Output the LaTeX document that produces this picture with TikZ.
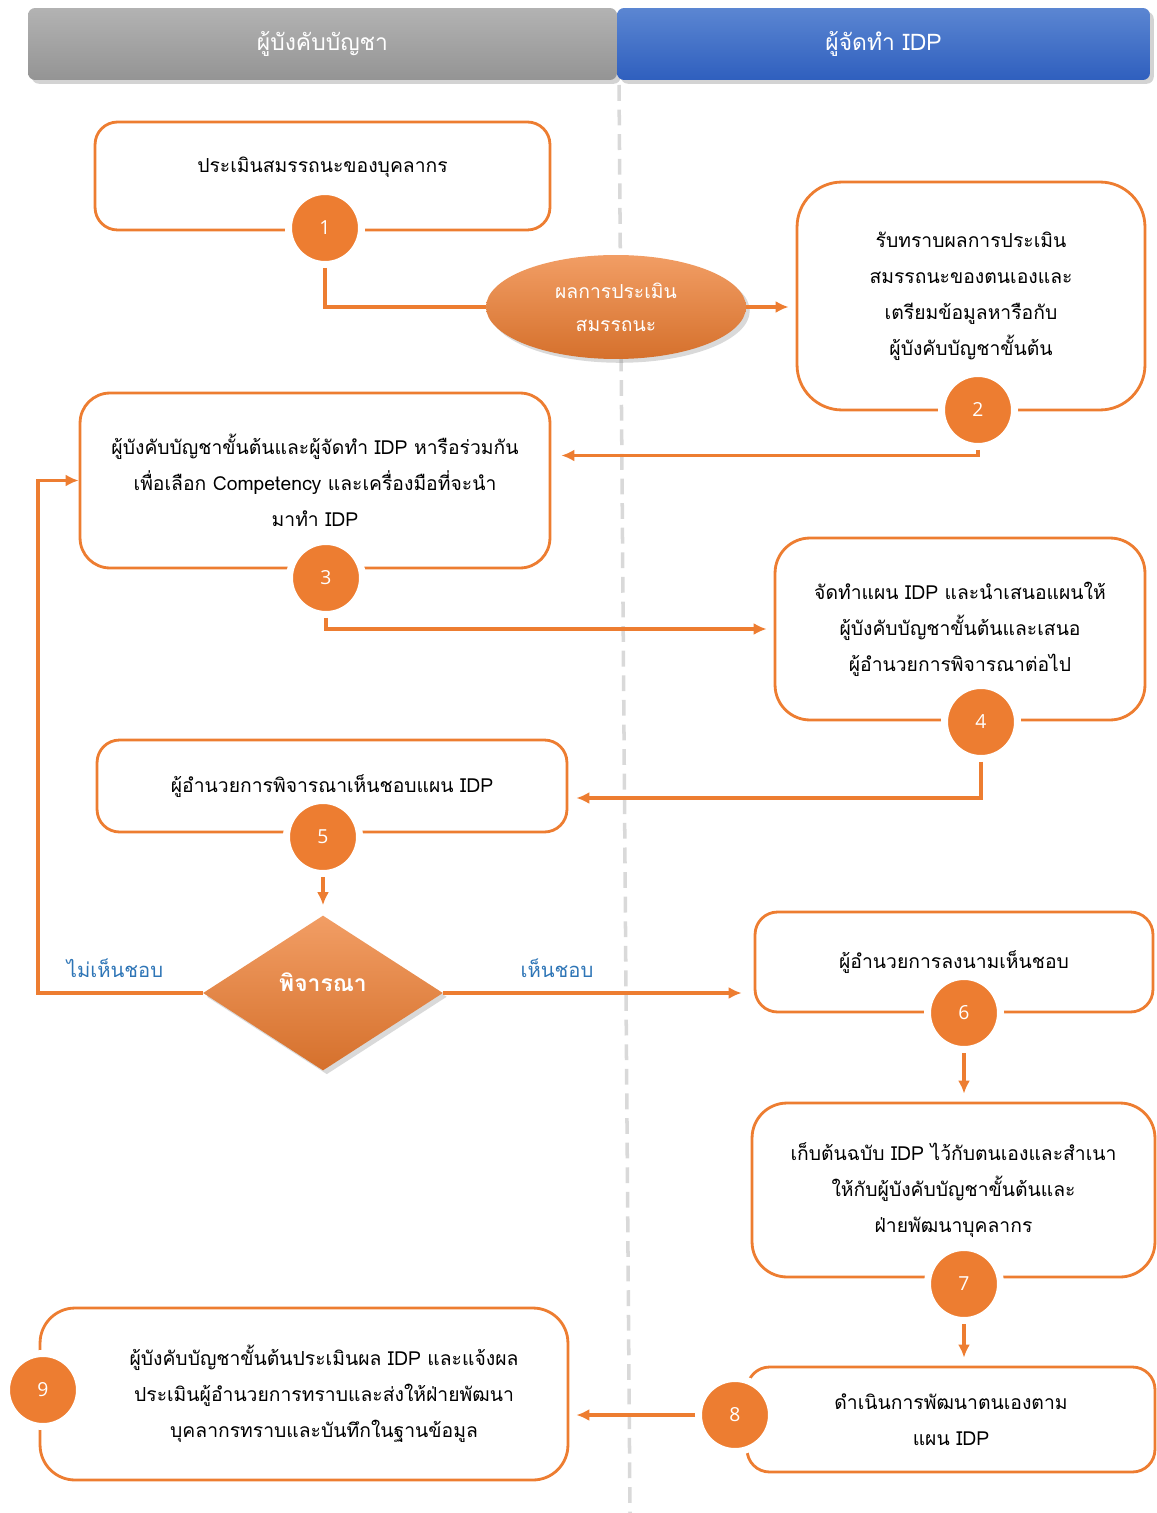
\documentclass[tikz,border=0pt]{standalone}
\usepackage{fontspec}
\newfontfamily\thaifont[Script=Thai]{Loma}
\newfontfamily\numfont{Open Sans}
\usetikzlibrary{arrows,arrows.meta,shapes,calc,shadows}
\definecolor{ocolor}{HTML}{ED7D31}
\definecolor{lblue}{HTML}{2E75B6}
\tikzset{
  stepbox/.style={
    rectangle,
    draw=ocolor,
    line width=1.6pt,
    rounded corners=#1,
    fill=white,
    align=center,
    inner sep=0pt,
    font=\thaifont\fontsize{11}{20.5}\selectfont
  },
  stepbox/.default=0.45cm,
  numnode/.style={
    circle,
    minimum size=1.46cm,
    inner sep=0pt,
    fill=ocolor,
    draw=white,
    line width=0.14cm,
    text=white,
    font=\numfont\fontsize{11}{11}\selectfont
  },
  headnode/.style n args={2}{
    rectangle,
    rounded corners=4pt,
    top color=#1,
    bottom color=#2,
    text=white,
    drop shadow={opacity=0.35},
    font=\thaifont\fontsize{13}{16}\selectfont
  },
  resnode/.style={
    ellipse,
    top color=ocolor!75!white,
    bottom color=ocolor!90!black,
    text=white,
    align=center,
    drop shadow={opacity=0.3},
    font=\thaifont\fontsize{11}{19}\selectfont
  },
  decnode/.style={
    diamond,
    top color=ocolor!75!white,
    bottom color=ocolor!90!black,
    text=white,
    drop shadow={opacity=0.3},
    font=\thaifont\bfseries\fontsize{13}{16}\selectfont
  },
  lblnode/.style={
    text=lblue,
    font=\thaifont\fontsize{11.5}{16}\selectfont
  },
  conn/.style={
    draw=ocolor,
    line width=1.8pt
  },
}

\begin{document}
\begin{tikzpicture}[x=0.02cm, y=-0.02cm, >={Latex[length=0.26cm, width=0.24cm]}]
    \useasboundingbox (0,0) rectangle (1156,1513);

    %% Lane divider
    \draw[black!15, line width=2pt, dash pattern=on 9pt off 5pt] (619,85) -- (630,1513);

    %% Lane headers
    \node[headnode={black!30}{black!42}, minimum width=11.78cm, minimum height=1.44cm] (hboss) at (322.5,44) {ผู้บังคับบัญชา};
    \node[headnode={blue!40!white}{blue!60!black}, top color={rgb,255:red,91;green,134;blue,210}, bottom color={rgb,255:red,47;green,95;blue,190}, minimum width=10.66cm, minimum height=1.44cm] (hidp) at (883.5,44) {ผู้จัดทำ IDP};

    %% Steps
    \node[stepbox, minimum width=9.1cm, minimum height=2.16cm, text depth=0.45cm] (b1) at (322.5,176) {ประเมินสมรรถนะของบุคลากร};
    \node[stepbox=0.9cm, minimum width=6.96cm, minimum height=4.56cm] (b2) at (971,296) {รับทราบผลการประเมิน\\สมรรถนะของตนเองและ\\เตรียมข้อมูลหารือกับ\\ผู้บังคับบัญชาขั้นต้น};
    \node[stepbox=0.6cm, minimum width=9.4cm, minimum height=3.5cm] (b3) at (315,480.5) {ผู้บังคับบัญชาขั้นต้นและผู้จัดทำ IDP หารือร่วมกัน\\เพื่อเลือก Competency และเครื่องมือที่จะนำ\\มาทำ IDP};
    \node[stepbox=0.7cm, minimum width=7.4cm, minimum height=3.64cm] (b4) at (960,629) {จัดทำแผน IDP และนำเสนอแผนให้\\ผู้บังคับบัญชาขั้นต้นและเสนอ\\ผู้อำนวยการพิจารณาต่อไป};
    \node[stepbox, minimum width=9.4cm, minimum height=1.84cm] (b5) at (332,786) {ผู้อำนวยการพิจารณาเห็นชอบแผน IDP};
    \node[stepbox, minimum width=7.96cm, minimum height=2cm] (b6) at (954,962) {ผู้อำนวยการลงนามเห็นชอบ};
    \node[stepbox=0.7cm, minimum width=8.06cm, minimum height=3.48cm] (b7) at (953.5,1190) {เก็บต้นฉบับ IDP ไว้กับตนเองและสำเนา\\ให้กับผู้บังคับบัญชาขั้นต้นและ\\ฝ่ายพัฒนาบุคลากร};
    \node[stepbox, minimum width=8.16cm, minimum height=2.1cm] (b8) at (951,1419.5) {ดำเนินการพัฒนาตนเองตาม\\แผน IDP};
    \node[stepbox=0.7cm, minimum width=10.56cm, minimum height=3.44cm] (b9) at (304,1394) {\hspace{0.8cm}ผู้บังคับบัญชาขั้นต้นประเมินผล IDP และแจ้งผล\\\hspace{0.8cm}ประเมินผู้อำนวยการทราบและส่งให้ฝ่ายพัฒนา\\\hspace{0.8cm}บุคลากรทราบและบันทึกในฐานข้อมูล};

    %% Results and decision
    \node[resnode, minimum width=5.2cm, minimum height=2.08cm] (res) at (616,307) {ผลการประเมิน\\สมรรถนะ};
    \node[decnode, minimum width=4.8cm, minimum height=3.1cm, text depth=0.45cm] (dec) at (323,993) {พิจารณา};

    %% Step numbers
    \node[numnode] (c1) at (325,228) {1};
    \node[numnode] (c2) at (978,410) {2};
    \node[numnode] (c3) at (326,578) {3};
    \node[numnode] (c4) at (981,722) {4};
    \node[numnode] (c5) at (323,837) {5};
    \node[numnode] (c6) at (964,1013) {6};
    \node[numnode] (c7) at (964,1284) {7};
    \node[numnode] (c8) at (735,1415) {8};
    \node[numnode] (c9) at (43,1390) {9};

    %% Edge labels
    \node[lblnode] (lno) at (115,968) {ไม่เห็นชอบ};
    \node[lblnode] (lyes) at (557,968) {เห็นชอบ};

    %% Edges
    \draw[conn] (c1.south) |- (res.west);
    \draw[conn, ->, shorten >=0.14cm] (res.east) -- (res.east -| b2.west);
    \draw[conn, ->, shorten >=0.2cm] (c2.south) |- ([yshift=0.5cm]b3.east);
    \draw[conn, ->, shorten >=0.14cm] (c3.south) |- (c3.south |- b4.west) -- (b4.west);
    \draw[conn, ->, shorten >=0.16cm] (c4.south) |- ([yshift=-0.24cm]b5.east);
    \draw[conn, ->, shorten >=0.2cm] (c5.south) -- (dec.north);

    % not approved goes back to step 3
    \coordinate (back) at (38,993);
    \draw[conn, ->] (dec.west) -- (back) |- (b3.west);
    % approved
    \draw[conn, ->, shorten >=0.24cm] (dec.east) -- (dec.east -| b6.west);

    \draw[conn, ->, shorten >=0.16cm] (c6.south) -- (c6.south |- b7.north);
    \draw[conn, ->, shorten >=0.16cm] (c7.south) -- (c7.south |- b8.north);
    \draw[conn, ->, shorten >=0.14cm] (c8.west) -- (c8.west -| b9.east);

\end{tikzpicture}
\end{document}
